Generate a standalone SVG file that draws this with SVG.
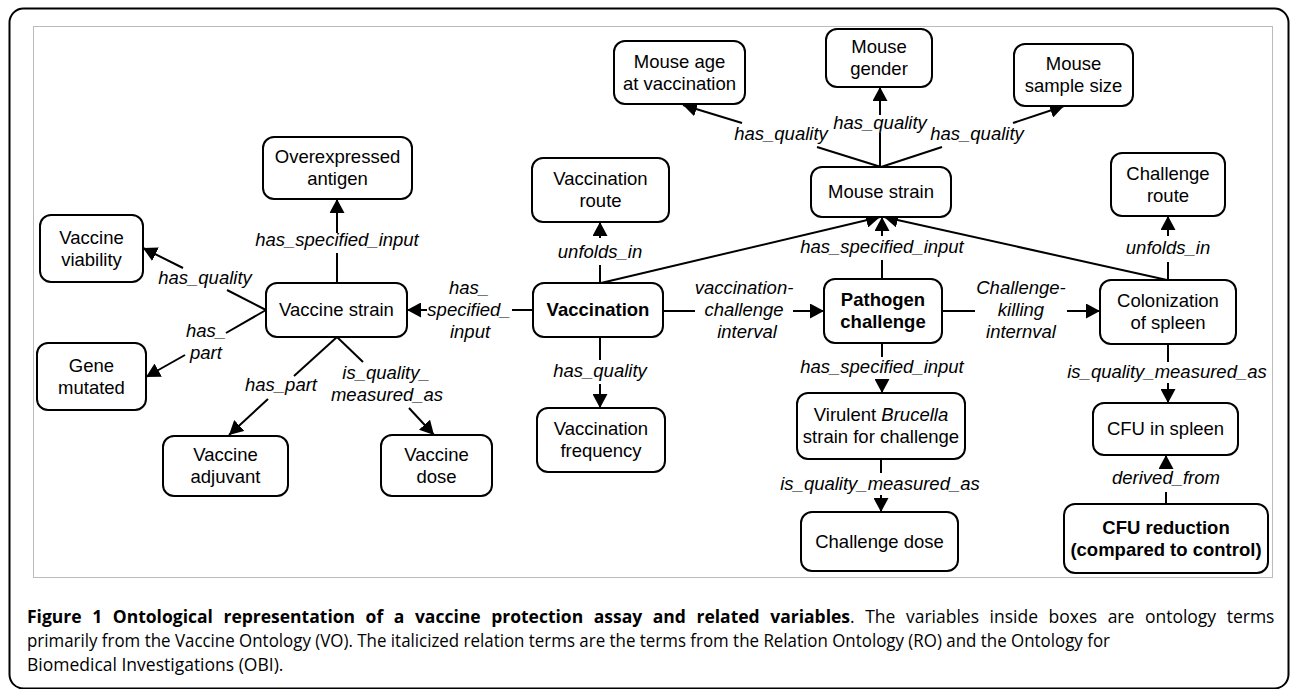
<svg xmlns="http://www.w3.org/2000/svg" width="1290" height="689" viewBox="0 0 1290 689">
<defs>
<marker id="ah" markerUnits="userSpaceOnUse" markerWidth="15" markerHeight="15" refX="14" refY="7.5" orient="auto">
<path d="M0,0 L14,7.5 L0,15 z" fill="#000"/>
</marker>
<style>
.n rect{fill:#fff;stroke:#000;stroke-width:2}
.n text{font-family:"Liberation Sans",Arial,sans-serif;font-size:18.5px;text-anchor:middle;fill:#000}
.b text{font-weight:bold}
.c line{stroke:#000;stroke-width:2}
.c line.a{marker-end:url(#ah)}
.l{font-family:"Liberation Sans",Arial,sans-serif;font-size:18.5px;font-style:italic;text-anchor:middle;fill:#000}
.cap{font-family:"Open Sans",sans-serif;font-size:17.5px;fill:#000}
</style>
</defs>
<rect x="0" y="0" width="1290" height="689" fill="#fff"/>
<rect x="9.5" y="8.5" width="1279" height="680" rx="14" fill="none" stroke="#000" stroke-width="2"/>
<rect x="33.5" y="26.5" width="1239" height="551" fill="none" stroke="#bbb" stroke-width="1"/>

<g id="connectors" class="c">
<line x1="337" y1="283" x2="337" y2="253"/><line class="a" x1="337" y1="233" x2="337" y2="199"/>
<line x1="266" y1="310" x2="227" y2="290"/><line class="a" x1="183" y1="268" x2="143" y2="248"/>
<line x1="266" y1="310" x2="226" y2="333"/><line class="a" x1="185" y1="355" x2="146" y2="377"/>
<line x1="337" y1="337" x2="294" y2="376"/><line class="a" x1="268" y1="399" x2="229" y2="435"/>
<line x1="337" y1="337" x2="363" y2="362"/><line class="a" x1="409" y1="408" x2="434" y2="435"/>
<line x1="533" y1="310" x2="512" y2="310"/><line class="a" x1="427" y1="310" x2="407" y2="310"/>
<line x1="600" y1="283" x2="600" y2="265"/><line class="a" x1="600" y1="238" x2="600" y2="222"/>
<line class="a" x1="601" y1="283" x2="880" y2="217"/>
<line x1="600" y1="337" x2="600" y2="360"/><line class="a" x1="600" y1="384" x2="600" y2="408"/>
<line x1="663" y1="311" x2="695" y2="311"/><line class="a" x1="793" y1="311" x2="824" y2="311"/>
<line x1="882" y1="279" x2="882" y2="260"/><line class="a" x1="882" y1="236" x2="882" y2="217"/>
<line x1="881" y1="167" x2="817" y2="147"/><line class="a" x1="742" y1="123" x2="683" y2="105"/>
<line x1="880" y1="167" x2="880" y2="133"/><line class="a" x1="880" y1="115" x2="880" y2="87"/>
<line x1="881" y1="167" x2="942" y2="147"/><line class="a" x1="1013" y1="123" x2="1064" y2="106"/>
<line class="a" x1="1167" y1="280" x2="884" y2="217"/>
<line x1="1168" y1="280" x2="1168" y2="262"/><line class="a" x1="1168" y1="236" x2="1168" y2="216"/>
<line x1="942" y1="311" x2="975" y2="311"/><line class="a" x1="1067" y1="311" x2="1100" y2="311"/>
<line x1="882" y1="343" x2="882" y2="357"/><line class="a" x1="882" y1="379" x2="882" y2="393"/>
<line x1="881" y1="459" x2="881" y2="473"/><line class="a" x1="881" y1="495" x2="881" y2="512"/>
<line x1="1168" y1="344" x2="1168" y2="362"/><line class="a" x1="1168" y1="383" x2="1168" y2="403"/>
<line x1="1166" y1="504" x2="1166" y2="492"/><line class="a" x1="1166" y1="468" x2="1166" y2="455"/>
<text class="l" x="337" y="246">has_specified_input</text>
<text class="l" x="205" y="284">has_quality</text>
<text class="l" x="206" y="337">has_</text>
<text class="l" x="206" y="359">part</text>
<text class="l" x="281" y="391">has_part</text>
<text class="l" x="386" y="379">is_quality_</text>
<text class="l" x="387" y="401">measured_as</text>
<text class="l" x="469" y="294">has_</text>
<text class="l" x="469" y="316">specified_</text>
<text class="l" x="470" y="338">input</text>
<text class="l" x="600" y="258">unfolds_in</text>
<text class="l" x="600" y="377">has_quality</text>
<text class="l" x="744" y="294">vaccination-</text>
<text class="l" x="744" y="316">challenge</text>
<text class="l" x="747" y="338">interval</text>
<text class="l" x="882" y="253">has_specified_input</text>
<text class="l" x="781" y="140">has_quality</text>
<text class="l" x="880" y="129">has_quality</text>
<text class="l" x="977" y="140">has_quality</text>
<text class="l" x="1168" y="254">unfolds_in</text>
<text class="l" x="1021" y="294">Challenge-</text>
<text class="l" x="1021" y="316">killing</text>
<text class="l" x="1021" y="338">internval</text>
<text class="l" x="882" y="373">has_specified_input</text>
<text class="l" x="880" y="490">is_quality_measured_as</text>
<text class="l" x="1167" y="378">is_quality_measured_as</text>
<text class="l" x="1166" y="484">derived_from</text>
</g>

<g id="overexpressed-antigen" class="n"><rect x="263" y="137" width="149" height="62" rx="11"/><text x="337.5" y="163">Overexpressed</text><text x="337.5" y="185">antigen</text></g>
<g id="vaccine-viability" class="n"><rect x="40" y="215" width="103" height="67" rx="11"/><text x="91.5" y="243.5">Vaccine</text><text x="91.5" y="265.5">viability</text></g>
<g id="vaccine-strain" class="n"><rect x="266" y="283" width="141" height="54" rx="11"/><text x="336.5" y="316">Vaccine strain</text></g>
<g id="gene-mutated" class="n"><rect x="37" y="343" width="109" height="67" rx="11"/><text x="91.5" y="371.5">Gene</text><text x="91.5" y="393.5">mutated</text></g>
<g id="vaccine-adjuvant" class="n"><rect x="163" y="436" width="125" height="60" rx="11"/><text x="225.5" y="461">Vaccine</text><text x="225.5" y="483">adjuvant</text></g>
<g id="vaccine-dose" class="n"><rect x="381" y="435" width="111" height="61" rx="11"/><text x="436.5" y="460.5">Vaccine</text><text x="436.5" y="482.5">dose</text></g>
<g id="mouse-age" class="n"><rect x="614" y="41" width="131" height="63" rx="11"/><text x="679.5" y="67.5">Mouse age</text><text x="679.5" y="89.5">at vaccination</text></g>
<g id="vaccination-route" class="n"><rect x="532" y="158" width="137" height="64" rx="11"/><text x="600.5" y="185">Vaccination</text><text x="600.5" y="207">route</text></g>
<g id="mouse-gender" class="n"><rect x="826" y="29" width="106" height="58" rx="11"/><text x="879" y="53">Mouse</text><text x="879" y="75">gender</text></g>
<g id="mouse-sample-size" class="n"><rect x="1014" y="44" width="119" height="62" rx="11"/><text x="1073.5" y="70">Mouse</text><text x="1073.5" y="92">sample size</text></g>
<g id="mouse-strain" class="n"><rect x="811" y="167" width="140" height="50" rx="11"/><text x="881" y="198">Mouse strain</text></g>
<g id="challenge-route" class="n"><rect x="1111" y="153" width="114" height="63" rx="11"/><text x="1168" y="179.5">Challenge</text><text x="1168" y="201.5">route</text></g>
<g id="vaccination" class="n b"><rect x="533" y="283" width="130" height="54" rx="11"/><text x="598" y="316">Vaccination</text></g>
<g id="vaccination-frequency" class="n"><rect x="537" y="408" width="128" height="64" rx="11"/><text x="601" y="435">Vaccination</text><text x="601" y="457">frequency</text></g>
<g id="pathogen-challenge" class="n b"><rect x="824" y="279" width="118" height="64" rx="11"/><text x="883" y="306">Pathogen</text><text x="883" y="328">challenge</text></g>
<g id="virulent-brucella" class="n"><rect x="797" y="393" width="168" height="66" rx="11"/><text x="881" y="421">Virulent <tspan font-style="italic">Brucella</tspan></text><text x="881" y="443">strain for challenge</text></g>
<g id="challenge-dose" class="n"><rect x="801" y="512" width="157" height="59" rx="11"/><text x="879.5" y="547.5">Challenge dose</text></g>
<g id="colonization-spleen" class="n"><rect x="1100" y="280" width="136" height="64" rx="11"/><text x="1168" y="307">Colonization</text><text x="1168" y="329">of spleen</text></g>
<g id="cfu-in-spleen" class="n"><rect x="1093" y="403" width="145" height="52" rx="11"/><text x="1165.5" y="435">CFU in spleen</text></g>
<g id="cfu-reduction" class="n b"><rect x="1064" y="504" width="204" height="69" rx="11"/><text x="1166" y="533.5">CFU reduction</text><text x="1166" y="555.5">(compared to control)</text></g>

<g id="caption" class="cap">
<text x="27" y="623" word-spacing="6"><tspan font-weight="bold">Figure 1 Ontological representation of a vaccine protection assay and related variables</tspan>. The variables inside boxes are ontology terms</text>
<text x="27" y="647" textLength="1083" lengthAdjust="spacingAndGlyphs">primarily from the Vaccine Ontology (VO). The italicized relation terms are the terms from the Relation Ontology (RO) and the Ontology for</text>
<text x="27" y="671">Biomedical Investigations (OBI).</text>
</g>
</svg>
